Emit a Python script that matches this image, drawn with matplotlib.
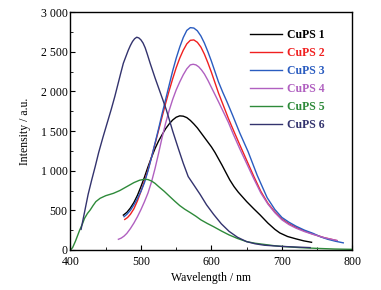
import numpy as np
import matplotlib
matplotlib.use("Agg")
import matplotlib.pyplot as plt
from matplotlib.ticker import MultipleLocator, FuncFormatter

plt.rcParams["font.family"] = ["Liberation Serif", "DejaVu Serif"]

# emission spectra (wavelength nm, intensity a.u.)
wl_1 = [475, 480, 485, 490, 495, 500, 505, 510, 515, 520, 525, 530, 535, 540,
        545, 550, 555, 560, 565, 570, 575, 580, 585, 590, 595, 600, 605, 610,
        615, 620, 626, 632, 638, 644, 650, 660, 669, 680, 690, 697, 708, 720,
        731, 742]
int_1 = [440, 475, 530, 600, 690, 800, 920, 1050, 1170, 1280, 1375, 1455,
         1530, 1590, 1640, 1675, 1692, 1688, 1670, 1635, 1590, 1540, 1480,
         1420, 1360, 1300, 1230, 1150, 1070, 985, 884, 800, 730, 670, 610,
         520, 442, 340, 260, 215, 170, 140, 115, 97]

wl_2 = [477, 481, 485, 490, 495, 500, 505, 510, 515, 520, 525, 530, 535, 540,
        545, 550, 555, 560, 565, 570, 575, 580, 585, 590, 595, 600, 605, 610,
        617, 624, 631, 640, 650, 660, 670, 680, 690, 700, 710, 720, 732, 744,
        760, 778]
int_2 = [385, 410, 450, 520, 620, 740, 870, 1010, 1170, 1340, 1510, 1680,
         1850, 2010, 2160, 2300, 2420, 2520, 2600, 2645, 2650, 2620, 2560,
         2470, 2360, 2240, 2110, 1980, 1820, 1660, 1514, 1330, 1130, 930, 740,
         590, 480, 390, 330, 285, 240, 200, 155, 118]

wl_3 = [476, 480, 485, 490, 495, 500, 505, 510, 515, 520, 525, 530, 535, 540,
        545, 550, 555, 560, 565, 570, 575, 580, 585, 590, 595, 600, 605, 610,
        616, 622, 630, 640, 652, 665, 679, 690, 700, 710, 720, 732, 744, 755,
        765, 776, 787]
int_3 = [420, 450, 500, 570, 650, 740, 850, 1000, 1170, 1350, 1530, 1720,
         1900, 2080, 2260, 2420, 2560, 2680, 2770, 2805, 2800, 2765, 2700,
         2610, 2500, 2380, 2250, 2120, 1990, 1870, 1700, 1480, 1240, 940, 660,
         510, 410, 350, 300, 250, 210, 165, 135, 110, 90]

wl_4 = [468, 472, 476, 480, 485, 490, 495, 500, 505, 510, 515, 520, 525, 530,
        535, 540, 545, 550, 555, 560, 565, 570, 574, 578, 582, 586, 590, 595,
        600, 605, 610, 617, 624, 631, 640, 650, 660, 670, 680, 690, 700, 710,
        720, 732, 744, 760, 778]
int_4 = [135, 150, 175, 210, 270, 340, 420, 510, 610, 720, 860, 1030, 1220,
         1420, 1600, 1760, 1900, 2020, 2120, 2210, 2285, 2335, 2343, 2335,
         2310, 2270, 2220, 2140, 2050, 1960, 1870, 1740, 1610, 1460, 1280,
         1090, 900, 720, 580, 470, 380, 320, 275, 232, 197, 155, 120]

wl_5 = [400, 403, 407, 413, 417, 420, 424, 428, 432, 436, 442, 450, 461, 470,
        480, 490, 498, 505, 510, 515, 520, 525, 533, 541, 548, 555, 562, 570,
        578, 585, 594, 603, 614, 625, 637, 650, 662, 675, 688, 700, 725, 750,
        775, 800]
int_5 = [0, 30, 110, 250, 330, 400, 460, 505, 560, 610, 652, 685, 715, 750,
         800, 850, 880, 892, 888, 870, 840, 800, 740, 673, 615, 560, 515, 471,
         425, 380, 335, 294, 240, 190, 145, 105, 85, 70, 55, 45, 30, 20, 12, 8]

wl_6 = [415, 420, 425, 430, 435, 440, 446, 452, 458, 463, 467, 471, 475, 479,
        482, 485, 488, 491, 494, 497, 500, 503, 506, 509, 513, 517, 520, 524,
        528, 532, 536, 540, 545, 549, 553, 556, 560, 567, 575, 584, 593, 603,
        614, 625, 637, 650, 662, 675, 700, 720, 740]
int_6 = [260, 480, 700, 880, 1050, 1230, 1420, 1600, 1780, 1940, 2080, 2220,
         2356, 2450, 2520, 2580, 2630, 2665, 2684, 2675, 2650, 2610, 2550,
         2470, 2356, 2250, 2170, 2070, 1970, 1870, 1767, 1650, 1500, 1390,
         1280, 1200, 1094, 926, 820, 700, 570, 450, 330, 235, 160, 105, 78,
         60, 45, 37, 30]

labels = ["CuPS 1", "CuPS 2", "CuPS 3", "CuPS 4", "CuPS 5", "CuPS 6"]
colors = ["#000000", "#f02020", "#2a5cc0", "#b060c0", "#2e8a3a", "#33336e"]

series = [(wl_1, int_1), (wl_2, int_2), (wl_3, int_3),
          (wl_4, int_4), (wl_5, int_5), (wl_6, int_6)]

fig = plt.figure(figsize=(3.81, 2.90), dpi=100)
ax = fig.add_axes([0.185, 0.138, 0.74, 0.82])

for (x, y), lab, c in zip(series, labels, colors):
    ax.plot(x, y, color=c, lw=1.0, label=lab, solid_joinstyle="round")

ax.set_xlim(400, 800)
ax.set_ylim(0, 3000)
ax.xaxis.set_major_locator(MultipleLocator(100))
ax.xaxis.set_minor_locator(MultipleLocator(50))
ax.yaxis.set_major_locator(MultipleLocator(500))
ax.yaxis.set_minor_locator(MultipleLocator(250))
ax.yaxis.set_major_formatter(
    FuncFormatter(lambda v, p: f"{int(v):,}".replace(",", " ")))
ax.tick_params(which="major", direction="in", length=3.5, width=0.8,
               labelsize=8.5, pad=2)
ax.tick_params(axis="x", which="major", pad=4)
ax.tick_params(which="minor", direction="in", length=2, width=0.6)
for s in ax.spines.values():
    s.set_linewidth(1.0)

ax.set_xlabel("Wavelength / nm", fontsize=8.5, labelpad=3)
ax.set_ylabel("Intensity / a.u.", fontsize=8.5, labelpad=7)

leg = ax.legend(loc="upper right", bbox_to_anchor=(0.94, 0.975), frameon=False,
                handlelength=2.7, handletextpad=0.45, labelspacing=0.52,
                prop={"weight": "bold", "size": 8.5})
for t, c in zip(leg.get_texts(), colors):
    t.set_color(c)

fig.savefig("out.png", dpi=100)
